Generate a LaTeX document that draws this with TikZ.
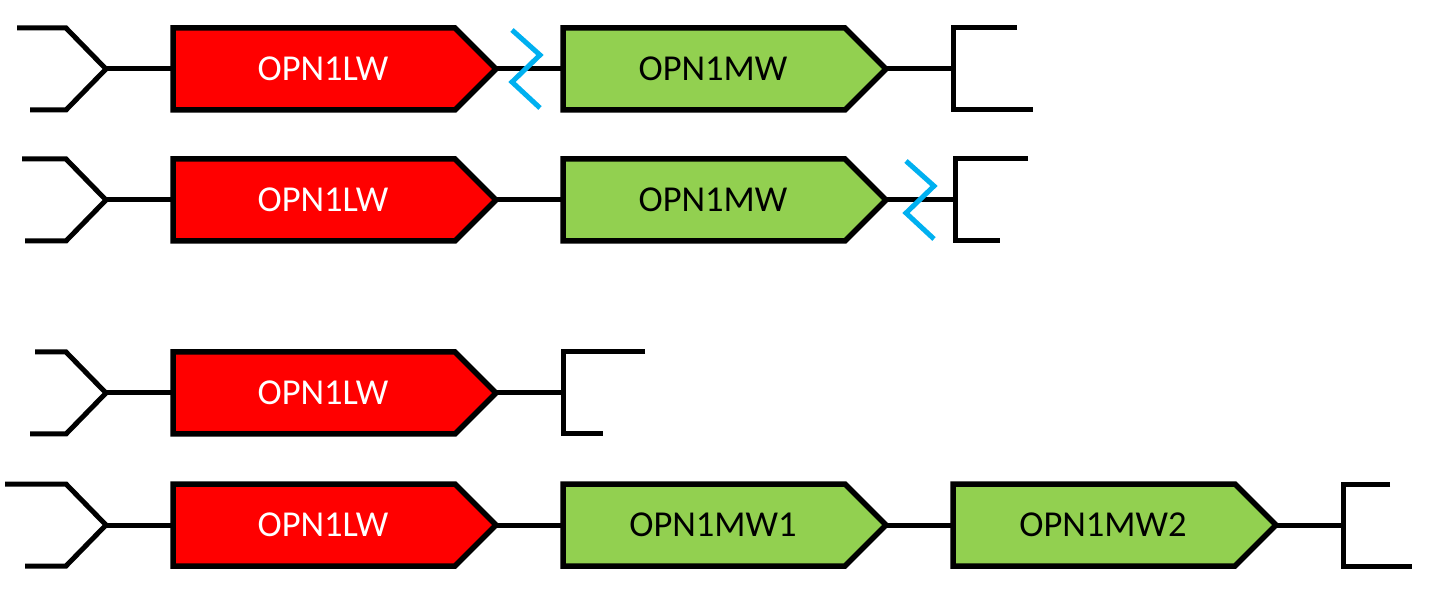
\documentclass[tikz,border=0pt]{standalone}
\usepackage{fontspec}
\setmainfont{Carlito}
\usetikzlibrary{positioning,shapes.symbols}
\definecolor{OpsinRed}{RGB}{255,0,0}
\definecolor{OpsinGreen}{RGB}{146,208,80}
\definecolor{CutBlue}{RGB}{0,176,240}

\begin{document}
\begin{tikzpicture}[x=1pt,y=-1pt,
    gene/.style={signal,signal to=east,signal pointer angle=90,draw=black,line width=5.5pt,
                 minimum width=323pt,minimum height=82pt,inner sep=0pt,outer sep=0pt,
                 execute at begin node=\hspace*{18pt},
                 font=\fontsize{36.5}{40}\selectfont},
    lw/.style={gene,fill=OpsinRed,text=white},
    mw/.style={gene,fill=OpsinGreen,text=black},
    wire/.style={line width=5pt,draw=black},
    cut/.style={line width=5pt,draw=CutBlue}]
  \useasboundingbox (0,0) rectangle (1446,601);
  % left caps and right brackets
  \foreach \n/\y/\s/\t in {1/69/17/30,2/200/22/25,3/393/35/30,4/525/5/25} {
    \coordinate (l\n) at (106,\y);
    \draw[wire] (\s,\y-41) -- (66,\y-41) -- (l\n) -- (66,\y+41) -- (\t,\y+41);
  }
  \foreach \n/\x/\y/\s/\t in {1/953/69/1017/1033,2/955/200/1028/1000,3/563/393/645/603,4/1343/525/1390/1412} {
    \coordinate (r\n) at (\x,\y);
    \draw[wire] (\s,\y-41) -- (\x,\y-41) -- (\x,\y+41) -- (\t,\y+41);
  }
  % genes
  \node[lw,anchor=west] (a1) at (173,69) {OPN1LW};
  \node[mw,right=67pt of a1] (a2) {OPN1MW};
  \node[lw,anchor=west] (b1) at (173,200) {OPN1LW};
  \node[mw,right=67pt of b1] (b2) {OPN1MW};
  \node[lw,anchor=west] (c1) at (173,393) {OPN1LW};
  \node[lw,anchor=west] (d1) at (173,525) {OPN1LW};
  \node[mw,right=67pt of d1] (d2) {OPN1MW1};
  \node[mw,right=67pt of d2] (d3) {OPN1MW2};
  \foreach \x/\y in {l1/a1.west,a1.east/a2.west,a2.east/r1,
                     l2/b1.west,b1.east/b2.west,b2.east/r2,
                     l3/c1.west,c1.east/r3,
                     l4/d1.west,d1.east/d2.west,d2.east/d3.west,d3.east/r4}
    \draw[wire] (\x) -- (\y);
  % cut sites
  \foreach \x/\y in {526/69,920/200}
    \draw[cut] (\x-14,\y-39) -- ++(28,25) -- ++(-28,27) -- ++(28,26);
\end{tikzpicture}
\end{document}
